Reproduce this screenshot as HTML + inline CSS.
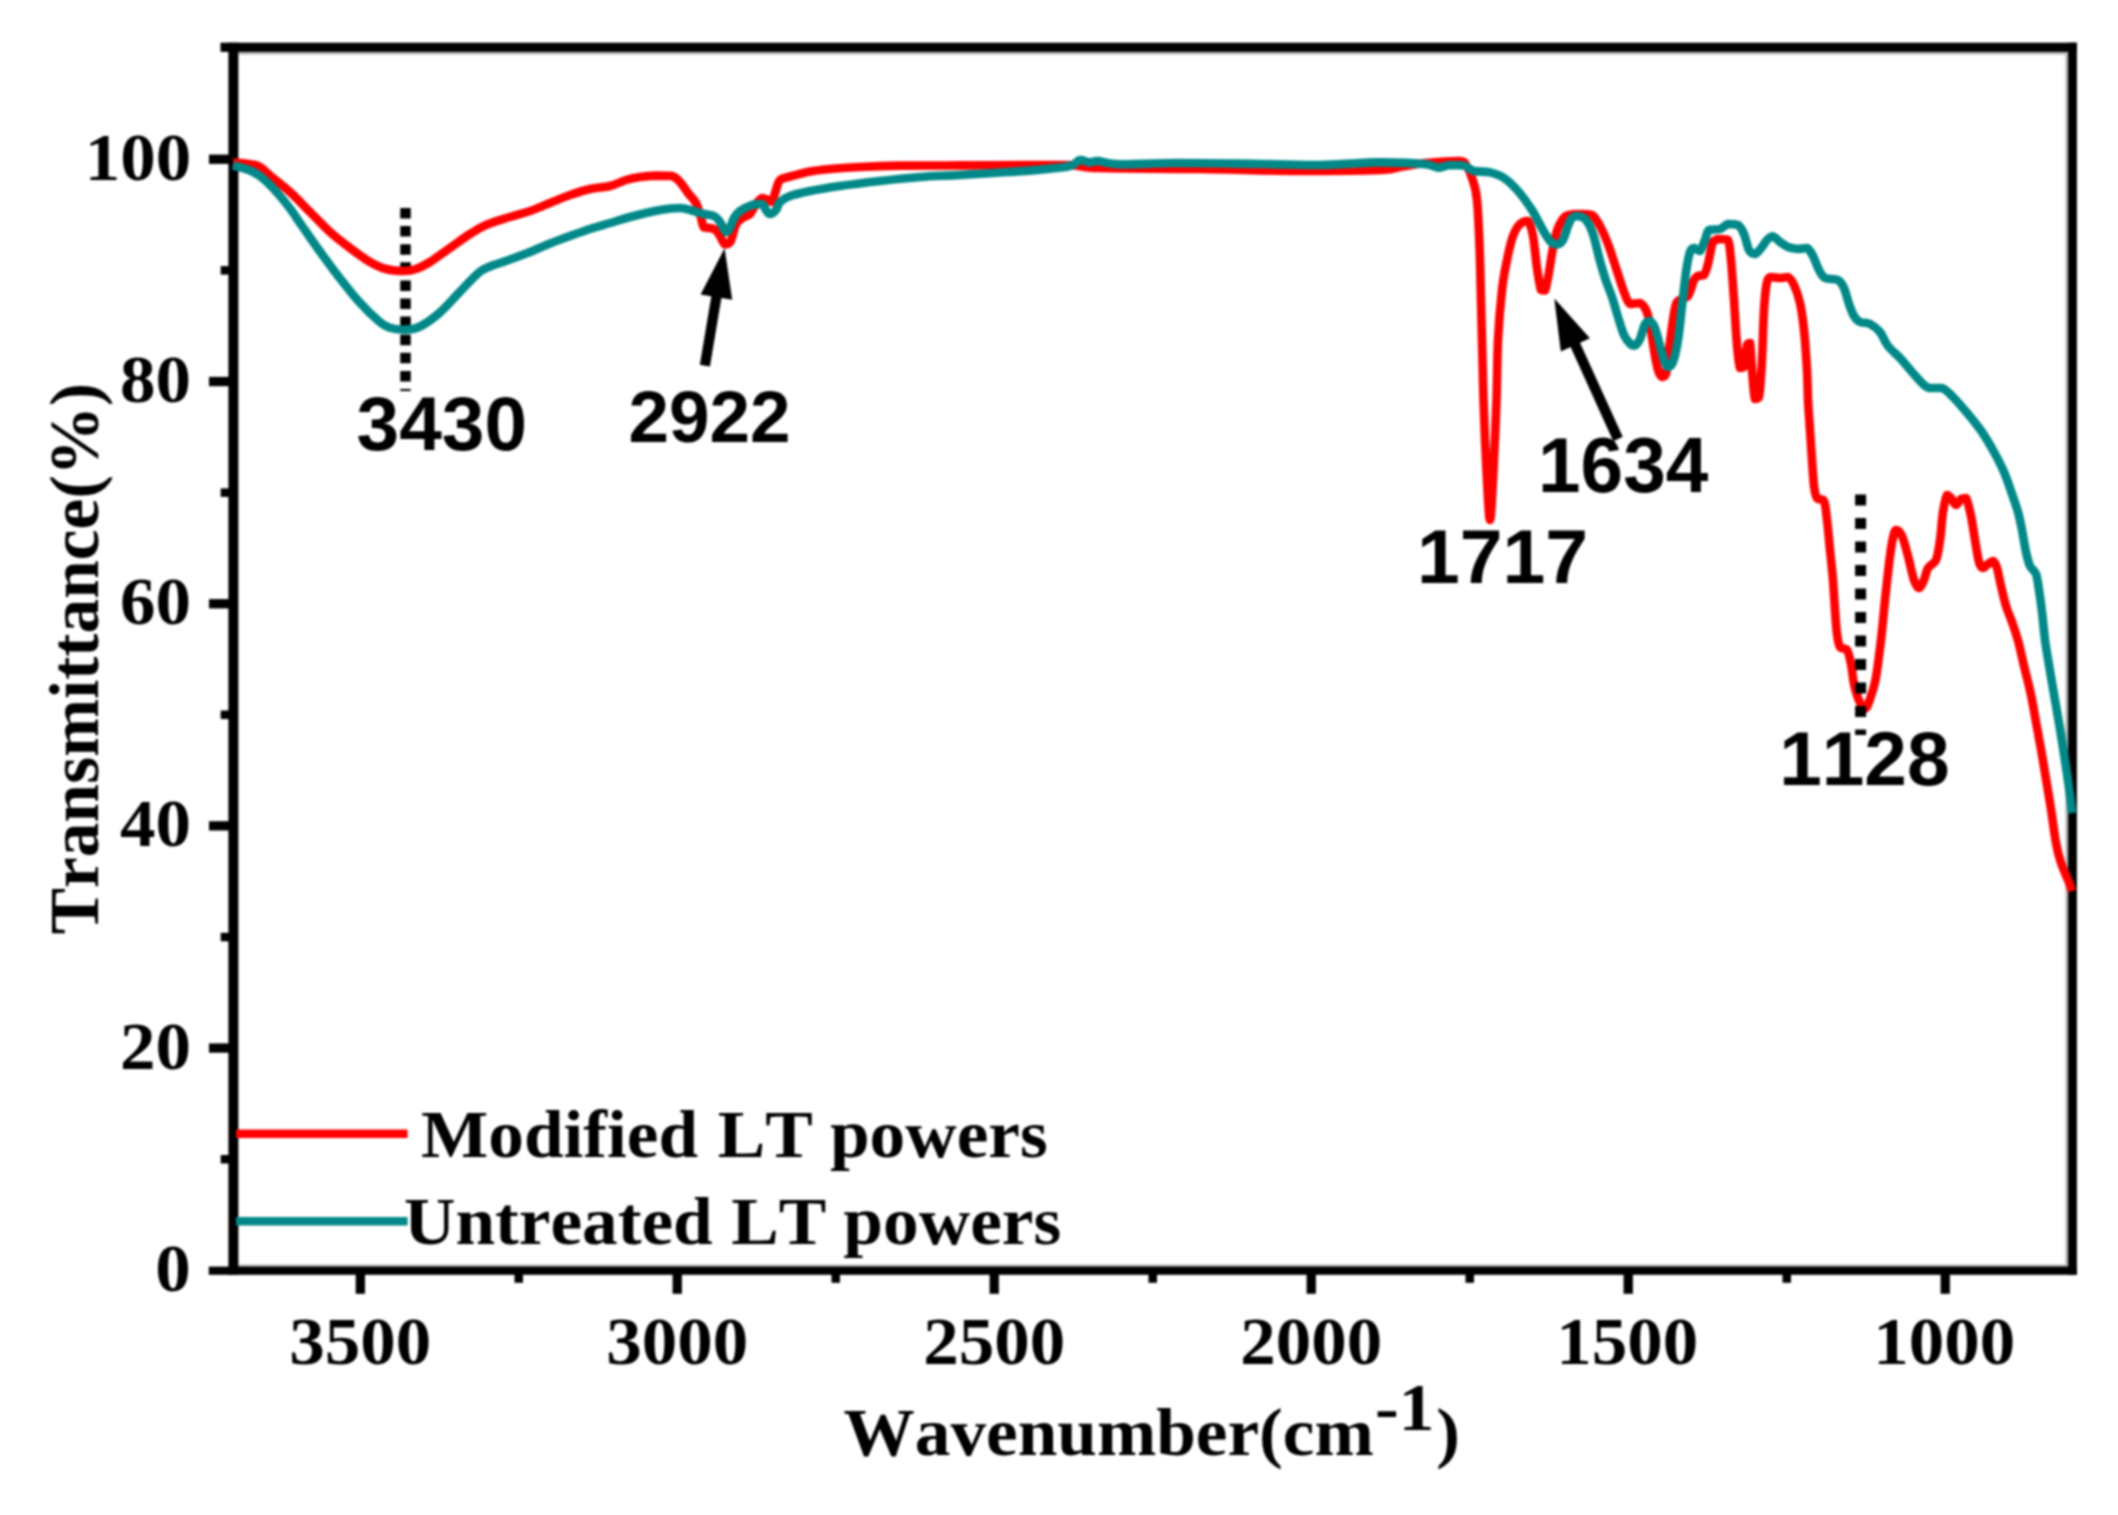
<!DOCTYPE html>
<html lang="en"><head><meta charset="utf-8"><title>FTIR spectra</title>
<style>html,body{margin:0;padding:0;background:#fff}body{width:2118px;height:1515px;overflow:hidden}svg{display:block}.s{font-family:"Liberation Serif",serif;font-weight:bold;font-kerning:none;fill:#000}.a{font-family:"Liberation Sans",sans-serif;font-weight:bold;font-kerning:none;fill:#000}</style></head><body>
<svg width="2118" height="1515" viewBox="0 0 2118 1515" style="filter:blur(0.8px)">
<rect width="2118" height="1515" fill="#fff"/>
<g shape-rendering="geometricPrecision">
<rect x="238.4" y="51.9" width="1829.7" height="2.7" fill="#b4b4b4"/>
<rect x="2065.4" y="51.9" width="2.7" height="1215.1" fill="#b4b4b4"/>
<rect x="238.4" y="1264.5" width="1829.7" height="2.5" fill="#b4b4b4"/>
<rect x="220.5" y="42.7" width="1856.4" height="9.2" fill="#000"/>
<rect x="208.8" y="1266.6" width="1868.1" height="8.2" fill="#000"/>
<rect x="228.4" y="42.7" width="10.0" height="1232.1" fill="#000"/>
<rect x="2068.1" y="42.7" width="8.8" height="1232.1" fill="#000"/>
<rect x="209.0" y="1043.4" width="21.0" height="9.3" fill="#000"/>
<rect x="209.0" y="821.2" width="21.0" height="9.3" fill="#000"/>
<rect x="209.0" y="599.1" width="21.0" height="9.3" fill="#000"/>
<rect x="209.0" y="376.9" width="21.0" height="9.3" fill="#000"/>
<rect x="209.0" y="154.6" width="21.0" height="9.3" fill="#000"/>
<rect x="220.7" y="1155.0" width="9.3" height="8.5" fill="#000"/>
<rect x="220.7" y="932.8" width="9.3" height="8.5" fill="#000"/>
<rect x="220.7" y="710.5" width="9.3" height="8.5" fill="#000"/>
<rect x="220.7" y="488.4" width="9.3" height="8.5" fill="#000"/>
<rect x="220.7" y="266.1" width="9.3" height="8.5" fill="#000"/>
<rect x="355.7" y="1270.0" width="9.3" height="23.8" fill="#000"/>
<rect x="672.6" y="1270.0" width="9.3" height="23.8" fill="#000"/>
<rect x="989.6" y="1270.0" width="9.3" height="23.8" fill="#000"/>
<rect x="1306.6" y="1270.0" width="9.3" height="23.8" fill="#000"/>
<rect x="1623.6" y="1270.0" width="9.3" height="23.8" fill="#000"/>
<rect x="1940.6" y="1270.0" width="9.3" height="23.8" fill="#000"/>
<rect x="514.5" y="1270.0" width="8.5" height="12.8" fill="#000"/>
<rect x="831.5" y="1270.0" width="8.5" height="12.8" fill="#000"/>
<rect x="1148.5" y="1270.0" width="8.5" height="12.8" fill="#000"/>
<rect x="1465.5" y="1270.0" width="8.5" height="12.8" fill="#000"/>
<rect x="1782.5" y="1270.0" width="8.5" height="12.8" fill="#000"/>
</g>
<line x1="405.5" y1="208" x2="405.5" y2="391" stroke="#000" stroke-width="10.5" stroke-dasharray="10.5 7.6"/>
<g fill="none" stroke-linejoin="round" stroke-linecap="butt" stroke-width="8.6">
<path stroke="#ff0000" d="M233.0 162.3C234.8 162.5 239.3 162.7 243.5 163.3C247.7 163.9 253.6 164.0 258.0 166.0C262.4 168.0 264.7 171.2 270.0 175.5C275.3 179.8 283.3 185.9 290.0 192.0C296.7 198.1 303.3 205.3 310.0 212.0C316.7 218.7 323.3 226.0 330.0 232.0C336.7 238.0 343.3 243.0 350.0 248.0C356.7 253.0 364.0 258.5 370.0 262.0C376.0 265.5 380.3 267.5 386.0 269.0C391.7 270.5 399.0 271.0 404.0 271.0C409.0 271.0 411.7 270.5 416.0 269.0C420.3 267.5 424.3 265.5 430.0 262.0C435.7 258.5 443.3 252.7 450.0 248.0C456.7 243.3 464.0 237.8 470.0 234.0C476.0 230.2 479.3 227.8 486.0 225.0C492.7 222.2 502.7 219.3 510.0 217.0C517.3 214.7 523.3 213.3 530.0 211.0C536.7 208.7 543.3 205.7 550.0 203.0C556.7 200.3 563.3 197.3 570.0 195.0C576.7 192.7 583.3 190.5 590.0 189.0C596.7 187.5 604.0 187.5 610.0 186.0C616.0 184.5 621.0 181.5 626.0 180.0C631.0 178.5 635.0 177.7 640.0 177.0C645.0 176.3 650.7 175.8 656.0 175.6C661.3 175.6 668.0 175.6 672.0 176.0C676.0 177.1 677.3 179.2 680.0 182.0C682.7 184.8 685.3 189.5 688.0 193.0C690.7 196.5 693.9 199.2 696.0 203.0C698.1 206.8 699.2 211.9 700.5 216.0C701.8 220.1 702.4 225.5 704.0 227.5C705.6 228.0 708.2 227.7 710.0 228.0C711.8 228.3 713.4 228.3 715.0 229.5C716.6 230.7 717.9 232.5 719.5 235.0C721.1 237.5 723.0 243.2 724.8 244.3C726.6 244.3 728.6 244.3 730.5 241.5C732.4 238.1 734.0 228.1 736.3 224.0C738.5 219.9 741.7 218.7 744.0 217.0C746.3 215.3 748.0 216.2 750.0 214.0C752.0 211.8 754.0 206.7 756.0 204.0C758.0 201.3 760.0 198.7 762.0 198.0C764.0 198.0 766.3 199.3 768.0 200.0C769.7 200.7 770.7 202.0 772.0 202.0C773.3 200.3 774.7 193.7 776.0 190.0C777.3 186.3 777.7 182.2 780.0 180.0C782.3 177.8 785.0 177.9 790.0 176.5C795.0 175.1 803.3 172.8 810.0 171.5C816.7 170.2 821.7 169.8 830.0 169.0C838.3 168.2 848.3 167.6 860.0 167.0C871.7 166.4 883.3 165.9 900.0 165.6C916.7 165.4 939.3 165.5 960.0 165.4C980.7 165.3 1005.7 165.1 1024.0 165.0C1042.3 165.0 1057.3 165.0 1070.0 165.0C1082.7 165.5 1078.3 167.3 1100.0 168.0C1121.7 168.7 1166.7 168.5 1200.0 169.0C1233.3 169.5 1270.0 170.8 1300.0 171.0C1330.0 171.0 1363.3 170.7 1380.0 170.0C1396.7 169.3 1392.3 168.2 1400.0 167.0C1407.7 165.8 1416.0 164.0 1426.0 163.0C1436.0 162.0 1453.3 161.0 1460.0 161.0C1466.0 161.3 1464.0 162.2 1466.0 165.0C1468.0 167.8 1470.2 172.2 1472.0 178.0C1473.8 183.8 1475.7 186.3 1477.0 200.0C1478.3 213.7 1478.9 226.7 1480.0 260.0C1481.1 293.3 1482.3 363.3 1483.5 400.0C1484.7 436.7 1485.9 460.0 1487.0 480.0C1488.1 500.0 1489.0 520.0 1490.0 520.0C1491.0 520.0 1491.9 500.0 1493.0 480.0C1494.1 460.0 1495.7 423.3 1496.5 400.0C1497.3 376.7 1497.1 358.3 1498.0 340.0C1498.9 321.7 1500.5 303.3 1502.0 290.0C1503.5 276.7 1505.2 269.0 1507.0 260.0C1508.8 251.0 1510.8 242.0 1513.0 236.0C1515.2 230.0 1517.5 226.5 1520.0 224.0C1522.5 221.5 1525.8 221.0 1528.0 221.0C1530.2 223.0 1531.5 228.2 1533.0 236.0C1534.5 243.8 1535.7 259.0 1537.0 268.0C1538.3 277.0 1539.7 286.2 1541.0 290.0C1542.3 290.5 1543.7 290.5 1545.0 290.5C1546.3 287.5 1547.7 279.1 1549.0 272.0C1550.3 264.9 1551.5 255.3 1553.0 248.0C1554.5 240.7 1555.8 233.3 1558.0 228.0C1560.2 222.7 1562.3 218.3 1566.0 216.0C1569.7 214.0 1575.7 214.2 1580.0 214.0C1584.3 214.0 1588.7 214.0 1592.0 215.0C1595.3 217.0 1597.3 221.2 1600.0 226.0C1602.7 230.8 1605.3 237.0 1608.0 244.0C1610.7 251.0 1613.3 260.0 1616.0 268.0C1618.7 276.0 1621.7 286.0 1624.0 292.0C1626.3 298.0 1627.3 302.2 1630.0 304.0C1632.7 304.0 1637.3 303.0 1640.0 303.0C1642.7 304.0 1644.3 306.5 1646.0 310.0C1647.7 313.5 1648.7 317.3 1650.0 324.0C1651.3 330.7 1652.7 342.3 1654.0 350.0C1655.3 357.7 1656.7 365.5 1658.0 370.0C1659.3 374.5 1660.7 376.3 1662.0 377.0C1663.3 377.0 1664.8 377.0 1666.0 374.0C1667.2 369.5 1667.8 359.0 1669.0 350.0C1670.2 341.0 1671.7 328.0 1673.0 320.0C1674.3 312.0 1674.5 306.0 1677.0 302.0C1679.5 298.0 1685.2 299.7 1688.0 296.0C1690.8 292.3 1692.3 283.3 1694.0 280.0C1695.7 276.7 1696.3 276.8 1698.0 276.0C1699.7 275.2 1702.3 276.0 1704.0 275.0C1705.7 273.0 1706.5 269.5 1708.0 264.0C1709.5 258.5 1711.0 246.2 1713.0 242.0C1715.0 239.0 1717.5 239.3 1720.0 239.0C1722.5 239.0 1726.2 239.0 1728.0 240.0C1729.8 243.5 1730.0 250.0 1731.0 260.0C1732.0 270.0 1733.0 285.8 1734.0 300.0C1735.0 314.2 1736.0 333.7 1737.0 345.0C1738.0 356.3 1738.8 364.3 1740.0 368.0C1741.2 368.0 1742.8 368.0 1744.0 367.0C1745.2 363.2 1746.0 349.0 1747.0 345.0C1748.0 343.0 1749.2 343.0 1750.0 343.0C1750.8 347.2 1751.2 360.7 1752.0 370.0C1752.8 379.3 1753.8 394.5 1755.0 399.0C1756.2 399.0 1757.8 399.0 1759.0 397.0C1760.2 390.5 1761.2 374.5 1762.0 360.0C1762.8 345.5 1763.2 323.0 1764.0 310.0C1764.8 297.0 1765.8 287.5 1767.0 282.0C1768.2 277.0 1768.8 277.7 1771.0 277.0C1773.2 277.0 1777.2 278.0 1780.0 278.0C1782.8 278.0 1785.7 277.0 1788.0 277.0C1790.3 278.2 1792.0 280.7 1794.0 285.0C1796.0 289.3 1798.3 295.5 1800.0 303.0C1801.7 310.5 1802.8 318.8 1804.0 330.0C1805.2 341.2 1806.3 358.3 1807.0 370.0C1807.7 381.7 1807.5 390.0 1808.0 400.0C1808.5 410.0 1809.3 420.0 1810.0 430.0C1810.7 440.0 1811.3 450.7 1812.0 460.0C1812.7 469.3 1813.2 479.7 1814.0 486.0C1814.8 492.3 1815.3 495.5 1817.0 498.0C1818.7 500.5 1822.3 498.0 1824.0 501.0C1825.7 504.7 1826.0 511.8 1827.0 520.0C1828.0 528.2 1829.0 540.0 1830.0 550.0C1831.0 560.0 1832.2 570.0 1833.0 580.0C1833.8 590.0 1834.3 601.0 1835.0 610.0C1835.7 619.0 1836.2 627.8 1837.0 634.0C1837.8 640.2 1838.3 644.3 1840.0 647.0C1841.7 649.7 1845.2 647.2 1847.0 650.0C1848.8 652.8 1849.8 658.3 1851.0 664.0C1852.2 669.7 1852.8 678.3 1854.0 684.0C1855.2 689.7 1856.7 694.3 1858.0 698.0C1859.3 701.7 1860.8 704.2 1862.0 706.0C1863.2 707.8 1864.3 708.5 1865.5 708.5C1866.7 707.8 1867.3 706.8 1869.0 702.0C1870.7 697.2 1873.5 690.3 1875.5 680.0C1877.5 669.7 1879.4 653.3 1881.0 640.0C1882.6 626.7 1883.7 612.7 1885.0 600.0C1886.3 587.3 1887.8 574.0 1889.0 564.0C1890.2 554.0 1891.3 545.7 1892.5 540.0C1893.7 534.3 1894.4 530.7 1896.0 530.0C1897.6 530.0 1900.0 531.7 1902.0 536.0C1904.0 540.3 1906.0 548.7 1908.0 556.0C1910.0 563.3 1912.2 574.7 1914.0 580.0C1915.8 585.3 1917.3 588.0 1919.0 588.0C1920.7 588.0 1922.5 583.3 1924.0 580.0C1925.5 576.7 1926.0 571.3 1928.0 568.0C1930.0 564.7 1934.0 564.7 1936.0 560.0C1938.0 555.3 1938.8 548.0 1940.0 540.0C1941.2 532.0 1941.8 519.5 1943.0 512.0C1944.2 504.5 1945.7 497.3 1947.0 495.0C1948.3 495.0 1949.5 496.3 1951.0 498.0C1952.5 499.7 1954.3 504.8 1956.0 505.0C1957.7 505.0 1959.3 500.2 1961.0 499.0C1962.7 498.0 1964.3 498.0 1966.0 498.0C1967.7 500.8 1969.5 509.0 1971.0 516.0C1972.5 523.0 1973.7 532.3 1975.0 540.0C1976.3 547.7 1977.7 557.3 1979.0 562.0C1980.3 566.7 1981.5 567.7 1983.0 568.0C1984.5 568.0 1986.3 565.2 1988.0 564.0C1989.7 562.8 1991.5 561.0 1993.0 561.0C1994.5 561.7 1995.7 563.8 1997.0 568.0C1998.3 572.2 1999.5 579.7 2001.0 586.0C2002.5 592.3 2004.2 600.0 2006.0 606.0C2007.8 612.0 2010.0 616.2 2012.0 622.0C2014.0 627.8 2015.9 632.8 2018.0 640.5C2020.1 648.2 2022.3 658.9 2024.5 668.0C2026.7 677.1 2029.1 686.0 2031.0 695.0C2032.9 704.0 2034.3 712.7 2036.0 722.0C2037.7 731.3 2039.6 741.5 2041.3 751.0C2043.0 760.5 2044.5 769.8 2046.0 779.0C2047.5 788.2 2048.8 795.3 2050.5 806.0C2052.2 816.7 2054.3 833.7 2056.0 843.0C2057.7 852.3 2058.7 855.8 2060.7 862.0C2062.7 868.2 2066.1 875.2 2068.0 880.0C2069.9 884.8 2071.3 889.2 2072.0 891.0"/>
<path stroke="#008888" d="M233.0 165.4C236.1 166.3 246.1 168.6 251.4 171.0C256.7 173.4 260.3 176.2 264.7 180.0C269.1 183.8 273.5 188.5 277.9 193.5C282.3 198.5 287.4 205.1 291.1 210.0C294.8 214.9 297.1 218.8 299.9 222.9C302.7 227.0 304.7 229.8 308.0 234.5C311.3 239.2 314.4 243.9 319.7 251.1C325.0 258.3 333.0 269.4 339.6 277.9C346.2 286.4 352.8 294.9 359.4 302.2C366.0 309.5 374.2 317.3 379.2 321.5C384.1 325.7 385.0 326.1 389.1 327.5C393.2 328.9 399.0 329.7 404.0 329.7C409.0 329.6 413.1 329.7 418.9 327.0C424.7 324.3 432.1 319.2 438.7 313.6C445.3 308.0 451.9 300.1 458.5 293.3C465.1 286.5 473.1 277.5 478.4 273.0C483.6 268.5 486.4 268.2 490.0 266.5C493.6 264.8 496.7 264.2 500.0 263.0C503.3 261.8 505.0 261.3 510.0 259.5C515.0 257.7 523.3 254.7 530.0 252.0C536.7 249.3 543.3 246.2 550.0 243.5C556.7 240.8 563.3 238.4 570.0 236.0C576.7 233.6 583.3 231.2 590.0 229.0C596.7 226.8 603.3 225.0 610.0 223.0C616.7 221.0 621.7 219.2 630.0 217.0C638.3 214.8 651.7 211.5 660.0 210.0C668.3 208.5 674.7 208.0 680.0 208.0C685.3 208.1 688.0 209.5 692.0 210.5C696.0 211.5 700.3 213.1 704.0 214.0C707.7 214.9 711.3 214.7 714.0 216.0C716.7 217.3 718.0 219.3 720.0 222.0C722.0 224.7 724.3 231.0 726.0 232.0C727.7 232.0 728.7 230.3 730.0 228.0C731.3 225.7 732.3 220.8 734.0 218.0C735.7 215.2 737.0 213.2 740.0 211.0C743.0 208.8 748.3 206.2 752.0 205.0C755.7 204.0 759.7 204.0 762.0 204.0C764.3 204.8 764.7 208.3 766.0 210.0C767.3 211.7 768.3 214.0 770.0 214.0C771.7 214.0 774.3 212.0 776.0 210.0C777.7 208.0 777.7 204.3 780.0 202.0C782.3 199.7 785.0 197.8 790.0 196.0C795.0 194.2 801.7 192.7 810.0 191.0C818.3 189.3 828.3 187.7 840.0 186.0C851.7 184.3 866.7 182.5 880.0 181.0C893.3 179.5 906.7 178.0 920.0 177.0C933.3 176.0 946.7 175.8 960.0 175.0C973.3 174.2 986.7 173.4 1000.0 172.5C1013.3 171.6 1028.3 170.7 1040.0 169.6C1051.7 168.5 1063.3 167.6 1070.0 166.0C1076.7 164.4 1076.7 160.6 1080.0 160.0C1083.3 160.0 1087.0 162.2 1090.0 162.4C1093.0 162.4 1093.0 161.0 1098.0 161.0C1103.0 161.3 1106.3 164.1 1120.0 164.4C1133.7 164.4 1156.7 163.1 1180.0 163.0C1203.3 163.0 1236.7 163.7 1260.0 164.0C1283.3 164.3 1300.0 165.0 1320.0 165.0C1340.0 164.7 1362.7 162.6 1380.0 162.4C1397.3 162.4 1414.3 163.1 1424.0 164.0C1433.7 164.9 1433.7 167.4 1438.0 167.6C1442.3 167.6 1445.7 165.3 1450.0 165.0C1454.3 165.0 1460.0 165.0 1464.0 165.6C1468.0 166.6 1469.7 169.9 1474.0 171.0C1478.3 172.1 1485.0 171.2 1490.0 172.4C1495.0 173.6 1499.3 174.9 1504.0 178.0C1508.7 181.1 1513.3 185.7 1518.0 191.0C1522.7 196.3 1527.7 203.2 1532.0 210.0C1536.3 216.8 1540.7 226.5 1544.0 232.0C1547.3 237.5 1549.7 240.9 1552.0 243.0C1554.3 244.4 1556.2 244.4 1558.0 244.4C1559.8 243.9 1561.3 243.1 1563.0 240.0C1564.7 236.9 1566.5 229.7 1568.0 226.0C1569.5 222.3 1570.3 219.7 1572.0 218.0C1573.7 216.3 1575.7 216.0 1578.0 216.0C1580.3 216.3 1583.5 217.0 1586.0 220.0C1588.5 223.0 1590.7 227.2 1593.0 234.0C1595.3 240.8 1597.8 253.2 1600.0 261.0C1602.2 268.8 1604.0 275.0 1606.0 281.0C1608.0 287.0 1610.0 291.0 1612.0 297.0C1614.0 303.0 1616.0 310.7 1618.0 317.0C1620.0 323.3 1622.0 330.6 1624.0 335.0C1626.0 339.4 1628.2 341.8 1630.0 343.5C1631.8 345.2 1633.3 345.5 1635.0 345.5C1636.7 344.8 1638.3 342.6 1640.0 339.0C1641.7 335.4 1643.3 327.0 1645.0 324.0C1646.7 321.0 1648.3 321.0 1650.0 321.0C1651.7 321.7 1653.3 323.8 1655.0 328.0C1656.7 332.2 1658.5 340.7 1660.0 346.0C1661.5 351.3 1662.7 356.5 1664.0 360.0C1665.3 363.5 1666.5 366.7 1668.0 367.0C1669.5 367.0 1671.3 366.5 1673.0 362.0C1674.7 357.5 1676.5 349.3 1678.0 340.0C1679.5 330.7 1680.7 317.3 1682.0 306.0C1683.3 294.7 1684.7 281.0 1686.0 272.0C1687.3 263.0 1688.7 256.0 1690.0 252.0C1691.3 248.0 1692.3 248.2 1694.0 248.0C1695.7 248.0 1698.2 251.0 1700.0 251.0C1701.8 249.7 1703.5 243.5 1705.0 240.0C1706.5 236.5 1706.5 231.8 1709.0 230.0C1711.5 229.0 1716.8 230.0 1720.0 229.0C1723.2 228.0 1725.0 224.7 1728.0 224.0C1731.0 224.0 1735.3 224.0 1738.0 225.0C1740.7 226.7 1742.2 229.8 1744.0 234.0C1745.8 238.2 1747.2 246.7 1749.0 250.0C1750.8 253.3 1752.8 254.0 1755.0 254.0C1757.2 253.5 1760.0 249.3 1762.0 247.0C1764.0 244.7 1765.2 241.8 1767.0 240.0C1768.8 238.2 1770.8 236.4 1773.0 236.4C1775.2 236.7 1777.5 240.2 1780.0 242.0C1782.5 243.8 1785.0 245.8 1788.0 247.0C1791.0 248.2 1794.8 248.8 1798.0 249.0C1801.2 249.0 1804.5 248.0 1807.0 248.0C1809.5 249.2 1811.0 252.3 1813.0 256.0C1815.0 259.7 1817.0 266.3 1819.0 270.0C1821.0 273.7 1821.8 276.3 1825.0 278.0C1828.2 279.7 1834.8 278.3 1838.0 280.0C1841.2 281.7 1842.2 284.0 1844.0 288.0C1845.8 292.0 1847.3 299.3 1849.0 304.0C1850.7 308.7 1852.2 313.0 1854.0 316.0C1855.8 319.0 1857.3 320.7 1860.0 322.0C1862.7 323.3 1866.7 322.3 1870.0 324.0C1873.3 325.7 1877.0 328.3 1880.0 332.0C1883.0 335.7 1884.7 341.7 1888.0 346.0C1891.3 350.3 1896.0 353.7 1900.0 358.0C1904.0 362.3 1908.0 367.5 1912.0 372.0C1916.0 376.5 1921.0 382.3 1924.0 385.0C1927.0 387.7 1927.0 387.5 1930.0 388.0C1933.0 388.0 1938.3 388.0 1942.0 388.0C1945.7 389.3 1947.7 391.7 1952.0 396.0C1956.3 400.3 1963.0 408.0 1968.0 414.0C1973.0 420.0 1977.7 425.7 1982.0 432.0C1986.3 438.3 1990.3 445.3 1994.0 452.0C1997.7 458.7 2001.0 465.0 2004.0 472.0C2007.0 479.0 2009.7 487.3 2012.0 494.0C2014.3 500.7 2016.3 506.0 2018.0 512.0C2019.7 518.0 2020.7 523.3 2022.0 530.0C2023.3 536.7 2024.7 546.0 2026.0 552.0C2027.3 558.0 2028.3 562.3 2030.0 566.0C2031.7 569.7 2034.5 570.0 2036.0 574.0C2037.5 578.0 2038.0 583.7 2039.0 590.0C2040.0 596.3 2041.0 603.7 2042.0 612.0C2043.0 620.3 2043.8 630.7 2045.0 640.0C2046.2 649.3 2048.0 658.8 2049.5 668.0C2051.0 677.2 2052.6 686.2 2054.2 695.4C2055.8 704.6 2057.4 713.7 2059.0 723.0C2060.6 732.3 2061.8 740.2 2063.5 751.0C2065.2 761.8 2067.6 777.7 2069.0 788.0C2070.4 798.3 2071.5 808.8 2072.0 813.0"/>
</g>
<line x1="1860.6" y1="494.4" x2="1860.6" y2="735" stroke="#000" stroke-width="11" stroke-dasharray="11 12.5"/>
<line x1="704.9" y1="365.6" x2="716.7" y2="295.1" stroke="#000" stroke-width="10.2"/><polygon fill="#000" points="724.6,248.3 732.2,299.8 700.6,294.5"/>
<line x1="1618.0" y1="439.0" x2="1574.5" y2="343.1" stroke="#000" stroke-width="10.3"/><polygon fill="#000" points="1554.3,298.5 1589.9,338.3 1560.8,351.6"/>
<line x1="236" y1="1133.8" x2="407.6" y2="1133.8" stroke="#ff0000" stroke-width="8.6" stroke-linecap="butt"/>
<line x1="236" y1="1221.2" x2="407.6" y2="1221.2" stroke="#008888" stroke-width="8.6" stroke-linecap="butt"/>
<text id="t3430" class="a" font-size="76" transform="translate(358.60,450.40) scale(1.0085,1)" x="-2.00">3430</text>
<text id="t2922" class="a" font-size="72.5" transform="translate(631.40,441.90) scale(1.0052,1)" x="-3.00">2922</text>
<text id="t1634" class="a" font-size="77" transform="translate(1543.00,492.00) scale(0.9940,1)" x="-5.00">1634</text>
<text id="t1717" class="a" font-size="76" transform="translate(1422.00,583.00) scale(1.0124,1)" x="-5.00">1717</text>
<text id="t1128" class="a" font-size="76" transform="translate(1784.20,785.40) scale(1.0080,1)" x="-5.00">1128</text>
<text id="leg1" class="s" font-size="68.5" transform="translate(422.10,1157.10) scale(1.0403,1)" xml:space="preserve"><tspan x="-1.00">Modified </tspan><tspan x="284.21">LT </tspan><tspan x="392.06">powers</tspan></text>
<text id="leg2" class="s" font-size="68.5" transform="translate(406.00,1244.30) scale(1.0408,1)" xml:space="preserve"><tspan x="-2.00">Untreated </tspan><tspan x="312.52">LT </tspan><tspan x="420.22">powers</tspan></text>
<text id="xlab" class="s" font-size="68.5" transform="translate(844.60,1455.00) scale(1.0402,1)" xml:space="preserve"><tspan x="-1.00">Wavenumber(cm</tspan><tspan x="509.81" dy="-25">-1</tspan><tspan x="568.88" dy="25">)</tspan></text>
<text id="ylab" class="s" font-size="70" transform="translate(98.00,934.29) rotate(-90) scale(0.9918,1)">Transmittance(%)</text>
<text id="y0" class="s" font-size="68.5" transform="translate(158.43,1290.80) scale(1.0370,1)" x="-3.00">0</text>
<text id="y20" class="s" font-size="68.5" transform="translate(123.17,1068.60) scale(1.0370,1)" x="-3.00">20</text>
<text id="y40" class="s" font-size="68.5" transform="translate(121.09,846.40) scale(1.0370,1)" x="-1.00">40</text>
<text id="y60" class="s" font-size="68.5" transform="translate(122.13,624.20) scale(1.0370,1)" x="-2.00">60</text>
<text id="y80" class="s" font-size="68.5" transform="translate(122.13,402.00) scale(1.0370,1)" x="-2.00">80</text>
<text id="y100" class="s" font-size="68.5" transform="translate(89.99,179.80) scale(1.0370,1)" x="-5.00">100</text>
<text id="x3500" class="s" font-size="68.5" transform="translate(292.38,1364.00) scale(1.0370,1)" x="-3.00">3500</text>
<text id="x3000" class="s" font-size="68.5" transform="translate(609.38,1364.00) scale(1.0370,1)" x="-3.00">3000</text>
<text id="x2500" class="s" font-size="68.5" transform="translate(926.38,1364.00) scale(1.0370,1)" x="-3.00">2500</text>
<text id="x2000" class="s" font-size="68.5" transform="translate(1243.38,1364.00) scale(1.0370,1)" x="-3.00">2000</text>
<text id="x1500" class="s" font-size="68.5" transform="translate(1561.41,1364.00) scale(1.0370,1)" x="-5.00">1500</text>
<text id="x1000" class="s" font-size="68.5" transform="translate(1878.41,1364.00) scale(1.0370,1)" x="-5.00">1000</text>
</svg></body></html>
